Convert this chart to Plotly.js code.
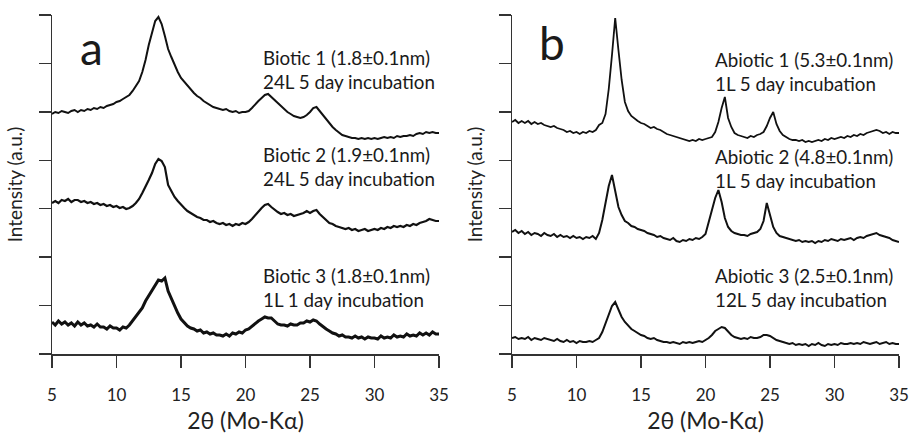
<!DOCTYPE html>
<html><head><meta charset="utf-8">
<script src="https://cdn.plot.ly/plotly-3.0.1.min.js"></script>
<style>html,body{margin:0;padding:0;background:#fff}#chart{width:909px;height:434px}</style>
</head><body><div id="chart"></div>
<script>
// 2θ grid: start 5°, step 0.25° (121 points up to 35°)
const twoThetaStart = 5;
const twoThetaStep = 0.25;
const xTicks = [5, 10, 15, 20, 25, 30, 35];
const xTickLabels = ['5', '10', '15', '20', '25', '30', '35'];

// Panel a — stacked intensities (a.u.)
const biotic1 = [
240,242,241,243, 242,241,243,244, 242,244,243,245, 244,246,245,247, 246,248,249,250,
252,253,255,257, 259,263,268,273, 282,294,309,322, 333,337,330,318, 305,297,289,282,
276,272,268,264, 261,258,256,253, 251,249,247,246, 245,244,245,243, 242,243,241,242,
242,243,246,250, 253,256,259,260, 257,253,250,247, 245,242,240,238, 237,236,237,239,
242,246,247,243, 238,234,230,227, 224,221,219,218, 217,216,216,215, 216,215,216,215,
216,215,216,217, 216,217,216,218, 217,218,218,219, 218,220,221,220, 222,221,222,221,
221];
const biotic2 = [
151,153,151,154, 153,155,152,154, 154,152,153,151, 152,150,151,149, 150,148,149,147,
148,146,147,145, 146,148,151,155, 161,167,174,181, 190,195,193,187, 169,163,157,153,
149,146,143,141, 139,137,136,134, 134,132,133,131, 130,131,129,130, 128,130,129,131,
130,132,135,139, 142,146,149,150, 147,144,142,140, 141,139,140,138, 139,140,141,143,
141,143,144,140, 137,134,131,130, 128,127,126,125, 126,124,125,123, 124,125,123,124,
125,124,126,125, 127,126,128,127, 128,127,129,128, 130,129,131,132, 133,135,134,133,
133];
const biotic3 = [
32,29,33,30, 32,29,31,28, 32,29,31,28, 29,27,30,27, 27,25,28,26,
26,24,27,26, 29,33,37,41, 46,53,58,64, 69,74,73,76, 63,55,48,41,
35,31,28,26, 25,23,24,21, 22,20,21,19, 19,18,20,18, 21,20,22,21,
24,25,28,31, 33,35,37,36, 36,33,30,29, 29,28,30,29, 29,31,31,33,
32,34,33,30, 27,25,23,21, 20,18,19,17, 17,16,18,16, 17,15,17,16,
16,15,18,16, 17,16,19,17, 18,17,20,18, 19,18,21,19, 21,19,22,20,
20];

// Panel b — stacked intensities (a.u.)
const abiotic1 = [
232,234,231,233, 231,233,230,232, 230,231,229,228, 227,228,226,225, 224,222,223,221,
222,220,222,221, 223,222,224,229, 231,240,265,299, 336,304,274,252, 243,238,235,233,
231,230,228,226, 227,225,224,222, 220,219,218,217, 216,215,214,213, 214,213,215,214,
215,216,217,222, 232,246,257,236, 227,221,219,218, 217,216,218,217, 219,220,222,228,
236,242,230,223, 219,217,215,214, 214,213,214,212, 213,212,213,214, 213,215,214,216,
215,216,217,216, 218,217,219,218, 220,219,221,222, 223,224,223,221, 222,220,222,221,
221];
const abiotic2 = [
122,124,121,123, 120,122,119,121, 120,118,121,119, 118,120,117,119, 117,118,116,118,
116,117,115,117, 116,118,115,121, 134,152,168,179, 162,147,139,133, 131,128,127,125,
124,123,121,120, 119,117,118,116, 115,114,116,113, 112,114,113,115, 114,116,115,117,
120,132,145,156, 164,152,136,127, 123,121,120,119, 119,118,120,121, 122,125,133,151,
139,127,121,118, 117,116,115,114, 113,114,112,113, 112,113,111,113, 112,114,113,115,
114,113,115,114, 115,116,114,116, 117,116,118,119, 120,121,119,118, 117,116,114,113,
112];
const abiotic3 = [
16,17,15,16, 15,17,14,16, 15,14,16,15, 14,13,15,13, 12,14,12,13,
11,13,12,12, 13,12,14,16, 22,31,40,48, 52,45,37,32, 28,25,23,21,
19,18,16,15, 16,14,13,12, 12,11,12,11, 10,12,11,12, 11,12,13,12,
14,16,19,23, 25,27,26,22, 19,17,16,15, 16,15,17,16, 16,17,19,19,
18,16,14,13, 12,11,10,11, 9,10,9,10, 8,10,9,11, 9,8,10,9,
10,9,11,10, 10,11,10,11, 10,12,11,10, 11,12,10,11, 12,10,11,10,
10];

const labelsA = [
  ['Biotic 1 (1.8±0.1nm)', '24L 5 day incubation'],
  ['Biotic 2 (1.9±0.1nm)', '24L 5 day incubation'],
  ['Biotic 3 (1.8±0.1nm)', '1L 1 day incubation']
];
const labelsB = [
  ['Abiotic 1 (5.3±0.1nm)', '1L 5 day incubation'],
  ['Abiotic 2 (4.8±0.1nm)', '1L 5 day incubation'],
  ['Abiotic 3 (2.5±0.1nm)', '12L 5 day incubation']
];

const W = 909, H = 434;
const FONT = 'Lato, "Open Sans", sans-serif';
const px = v => v / W;
const py = v => 1 - v / H;

function trace(y, xa, ya, name, w) {
  return {
    type: 'scatter', mode: 'lines', name: name,
    x0: twoThetaStart, dx: twoThetaStep, y: y,
    xaxis: xa, yaxis: ya,
    line: {color: '#111', width: w}, showlegend: false, hoverinfo: 'skip'
  };
}

const data = [
  trace(biotic1, 'x', 'y', 'Biotic 1', 2.0),
  trace(biotic2, 'x', 'y', 'Biotic 2', 2.2),
  trace(biotic3, 'x', 'y', 'Biotic 3', 3.0),
  trace(abiotic1, 'x2', 'y2', 'Abiotic 1', 1.8),
  trace(abiotic2, 'x2', 'y2', 'Abiotic 2', 2.0),
  trace(abiotic3, 'x2', 'y2', 'Abiotic 3', 2.0)
];

const axisLine = {color: '#333', width: 1.5};
function xAxis(domain, anchor) {
  return {
    domain: domain, anchor: anchor, range: [5, 35],
    tickmode: 'array', tickvals: xTicks, ticktext: xTickLabels,
    ticks: 'outside', ticklen: 12, tickwidth: 1.5, tickcolor: axisLine.color,
    showline: true, linecolor: axisLine.color, linewidth: axisLine.width,
    showgrid: false, zeroline: false, ticklabelstandoff: 13,
    tickfont: {family: FONT, size: 17, color: '#222'},
    title: {text: '2θ (Mo-Kα)', font: {family: FONT, size: 23, color: '#222'}, standoff: 9},
    fixedrange: true
  };
}
function yAxis(domain, anchor) {
  return {
    domain: domain, anchor: anchor, range: [0, 339],
    tick0: 0, dtick: 339 / 7, showticklabels: false,
    ticks: 'outside', ticklen: 12, tickwidth: 1.5, tickcolor: axisLine.color,
    showline: true, linecolor: axisLine.color, linewidth: axisLine.width,
    showgrid: false, zeroline: false,
    title: {text: 'Intensity (a.u.)', font: {family: FONT, size: 19, color: '#222'}, standoff: 11},
    fixedrange: true
  };
}

const annotations = [];
function addLabel(lines, xLeft, yMid) {
  annotations.push({
    xref: 'paper', yref: 'paper', x: px(xLeft), y: py(yMid),
    xanchor: 'left', yanchor: 'middle', align: 'left', showarrow: false,
    text: lines.join('<br>'), font: {family: FONT, size: 18.8, color: '#1a1a1a'}
  });
}
addLabel(labelsA[0], 261, 70);
addLabel(labelsA[1], 261, 167);
addLabel(labelsA[2], 261, 287);
addLabel(labelsB[0], 713, 72);
addLabel(labelsB[1], 713, 168);
addLabel(labelsB[2], 713, 287);
annotations.push({xref: 'paper', yref: 'paper', x: px(78), y: py(47), xanchor: 'left', yanchor: 'middle',
  showarrow: false, text: 'a', font: {family: FONT, size: 46, color: '#1a1a1a'}});
annotations.push({xref: 'paper', yref: 'paper', x: px(537), y: py(42), xanchor: 'left', yanchor: 'middle',
  showarrow: false, text: 'b', font: {family: FONT, size: 46, color: '#1a1a1a'}});

const layout = {
  width: W, height: H, margin: {l: 0, r: 0, t: 0, b: 0},
  paper_bgcolor: '#fff', plot_bgcolor: '#fff',
  font: {family: FONT, color: '#222'},
  xaxis: xAxis([px(52), px(439)], 'y'),
  yaxis: yAxis([1 - 354 / H, 1 - 15 / H], 'x'),
  xaxis2: xAxis([px(512), px(899)], 'y2'),
  yaxis2: yAxis([1 - 354 / H, 1 - 15 / H], 'x2'),
  annotations: annotations
};

Plotly.newPlot('chart', data, layout, {displayModeBar: false, staticPlot: true});
</script>
</body></html>
